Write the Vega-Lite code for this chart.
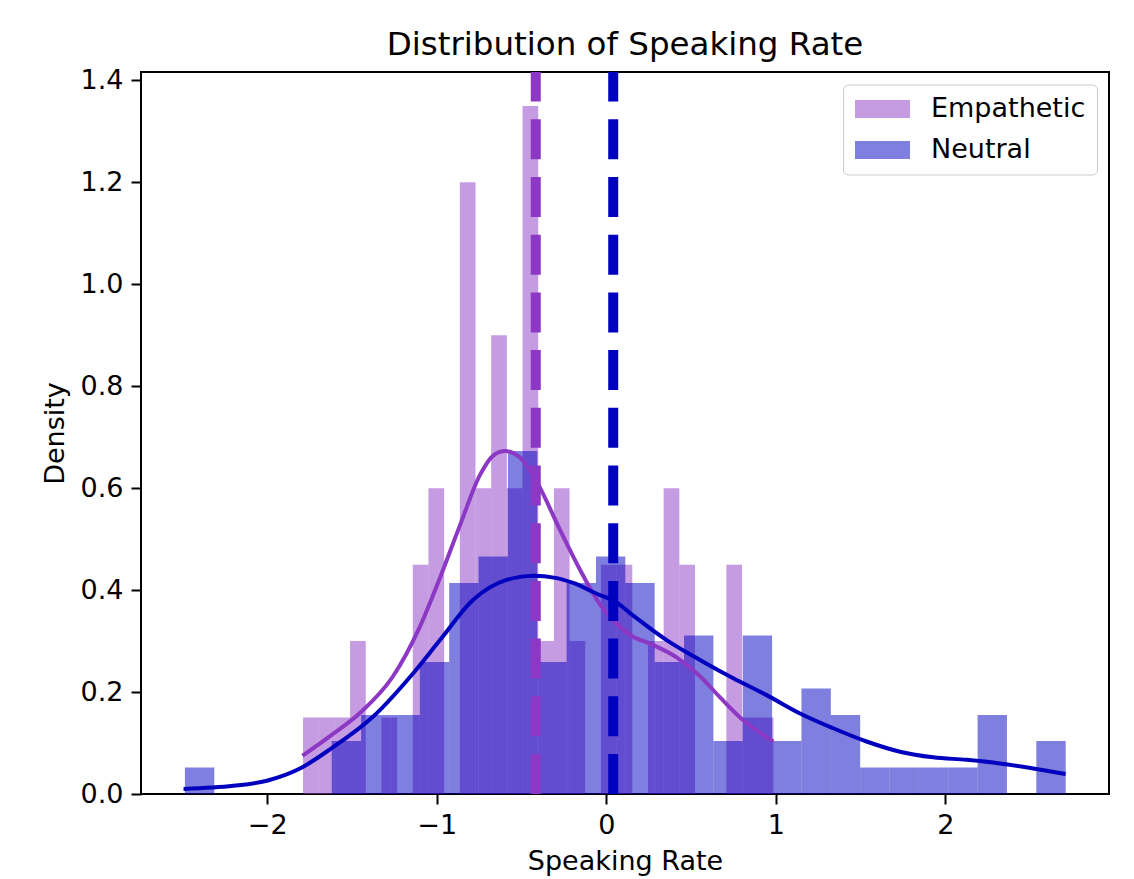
{
  "$schema": "https://vega.github.io/schema/vega-lite/v6.json",
  "width": 968,
  "height": 722,
  "autosize": {"type": "none"},
  "padding": {"left": 141, "top": 72, "right": 25, "bottom": 85},
  "background": "white",
  "title": {"text": "Distribution of Speaking Rate", "fontSize": 32.5, "font": "DejaVu Sans", "fontWeight": "normal", "color": "black", "anchor": "middle", "offset": 5},
  "datasets": {
    "bars": [
      {"group": "Empathetic", "x0": -1.789, "x1": -1.6965, "density": 0.15},
      {"group": "Empathetic", "x0": -1.6965, "x1": -1.604, "density": 0.15},
      {"group": "Empathetic", "x0": -1.604, "x1": -1.5115, "density": 0.15},
      {"group": "Empathetic", "x0": -1.5115, "x1": -1.419, "density": 0.30},
      {"group": "Empathetic", "x0": -1.3265, "x1": -1.234, "density": 0.15},
      {"group": "Empathetic", "x0": -1.1415, "x1": -1.049, "density": 0.45},
      {"group": "Empathetic", "x0": -1.049, "x1": -0.9565, "density": 0.60},
      {"group": "Empathetic", "x0": -0.864, "x1": -0.7715, "density": 1.20},
      {"group": "Empathetic", "x0": -0.7715, "x1": -0.679, "density": 0.60},
      {"group": "Empathetic", "x0": -0.679, "x1": -0.5865, "density": 0.90},
      {"group": "Empathetic", "x0": -0.5865, "x1": -0.494, "density": 0.60},
      {"group": "Empathetic", "x0": -0.494, "x1": -0.4015, "density": 1.35},
      {"group": "Empathetic", "x0": -0.4015, "x1": -0.309, "density": 0.30},
      {"group": "Empathetic", "x0": -0.309, "x1": -0.2165, "density": 0.60},
      {"group": "Empathetic", "x0": -0.2165, "x1": -0.124, "density": 0.30},
      {"group": "Empathetic", "x0": -0.0315, "x1": 0.061, "density": 0.45},
      {"group": "Empathetic", "x0": 0.061, "x1": 0.1535, "density": 0.45},
      {"group": "Empathetic", "x0": 0.246, "x1": 0.3385, "density": 0.30},
      {"group": "Empathetic", "x0": 0.3385, "x1": 0.431, "density": 0.60},
      {"group": "Empathetic", "x0": 0.431, "x1": 0.5235, "density": 0.45},
      {"group": "Empathetic", "x0": 0.7085, "x1": 0.801, "density": 0.45},
      {"group": "Empathetic", "x0": 0.801, "x1": 0.8935, "density": 0.15},
      {"group": "Empathetic", "x0": 0.8935, "x1": 0.986, "density": 0.15},
      {"group": "Neutral", "x0": -2.486, "x1": -2.3124, "density": 0.052},
      {"group": "Neutral", "x0": -1.6196, "x1": -1.4464, "density": 0.104},
      {"group": "Neutral", "x0": -1.4464, "x1": -1.2732, "density": 0.155},
      {"group": "Neutral", "x0": -1.2732, "x1": -1.1, "density": 0.155},
      {"group": "Neutral", "x0": -1.1, "x1": -0.9268, "density": 0.259},
      {"group": "Neutral", "x0": -0.9268, "x1": -0.7536, "density": 0.414},
      {"group": "Neutral", "x0": -0.7536, "x1": -0.5804, "density": 0.466},
      {"group": "Neutral", "x0": -0.5804, "x1": -0.4072, "density": 0.673},
      {"group": "Neutral", "x0": -0.4072, "x1": -0.234, "density": 0.259},
      {"group": "Neutral", "x0": -0.234, "x1": -0.0608, "density": 0.414},
      {"group": "Neutral", "x0": -0.0608, "x1": 0.1124, "density": 0.466},
      {"group": "Neutral", "x0": 0.1124, "x1": 0.2856, "density": 0.414},
      {"group": "Neutral", "x0": 0.2856, "x1": 0.4588, "density": 0.259},
      {"group": "Neutral", "x0": 0.4588, "x1": 0.632, "density": 0.311},
      {"group": "Neutral", "x0": 0.632, "x1": 0.8052, "density": 0.104},
      {"group": "Neutral", "x0": 0.8052, "x1": 0.9784, "density": 0.311},
      {"group": "Neutral", "x0": 0.9784, "x1": 1.1516, "density": 0.104},
      {"group": "Neutral", "x0": 1.1516, "x1": 1.3248, "density": 0.207},
      {"group": "Neutral", "x0": 1.3248, "x1": 1.498, "density": 0.155},
      {"group": "Neutral", "x0": 1.498, "x1": 1.6712, "density": 0.052},
      {"group": "Neutral", "x0": 1.6712, "x1": 1.8444, "density": 0.052},
      {"group": "Neutral", "x0": 1.8444, "x1": 2.0176, "density": 0.052},
      {"group": "Neutral", "x0": 2.0176, "x1": 2.1908, "density": 0.052},
      {"group": "Neutral", "x0": 2.1908, "x1": 2.364, "density": 0.155},
      {"group": "Neutral", "x0": 2.5372, "x1": 2.7104, "density": 0.104}
    ],
    "kdeEmp": [
      {"x": -1.792, "y": 0.075}, {"x": -1.62, "y": 0.116}, {"x": -1.45, "y": 0.16},
      {"x": -1.26, "y": 0.23}, {"x": -1.1, "y": 0.328}, {"x": -0.98, "y": 0.425},
      {"x": -0.86, "y": 0.53}, {"x": -0.745, "y": 0.626}, {"x": -0.667, "y": 0.664},
      {"x": -0.598, "y": 0.673}, {"x": -0.509, "y": 0.66}, {"x": -0.45, "y": 0.635},
      {"x": -0.39, "y": 0.6}, {"x": -0.273, "y": 0.518}, {"x": -0.155, "y": 0.44},
      {"x": -0.037, "y": 0.372}, {"x": 0.06, "y": 0.335}, {"x": 0.15, "y": 0.31},
      {"x": 0.258, "y": 0.295}, {"x": 0.415, "y": 0.268}, {"x": 0.55, "y": 0.232},
      {"x": 0.67, "y": 0.19}, {"x": 0.8, "y": 0.147}, {"x": 0.985, "y": 0.103}
    ],
    "kdeNeu": [
      {"x": -2.494, "y": 0.01}, {"x": -2.2, "y": 0.016}, {"x": -2.003, "y": 0.026},
      {"x": -1.807, "y": 0.05}, {"x": -1.62, "y": 0.09}, {"x": -1.375, "y": 0.152},
      {"x": -1.139, "y": 0.237}, {"x": -0.981, "y": 0.302}, {"x": -0.785, "y": 0.381},
      {"x": -0.588, "y": 0.42}, {"x": -0.431, "y": 0.428}, {"x": -0.3, "y": 0.424},
      {"x": -0.195, "y": 0.414}, {"x": -0.037, "y": 0.39}, {"x": 0.041, "y": 0.38},
      {"x": 0.159, "y": 0.35}, {"x": 0.356, "y": 0.302}, {"x": 0.553, "y": 0.263},
      {"x": 0.749, "y": 0.227}, {"x": 0.946, "y": 0.194}, {"x": 1.143, "y": 0.158},
      {"x": 1.339, "y": 0.129}, {"x": 1.536, "y": 0.103}, {"x": 1.733, "y": 0.083},
      {"x": 1.929, "y": 0.072}, {"x": 2.126, "y": 0.067}, {"x": 2.323, "y": 0.06},
      {"x": 2.519, "y": 0.05}, {"x": 2.71, "y": 0.039}
    ],
    "means": [
      {"group": "Empathetic", "mean": -0.416},
      {"group": "Neutral", "mean": 0.041}
    ]
  },
  "layer": [
    {
      "data": {"name": "bars"},
      "mark": {"type": "rect", "fillOpacity": 0.5, "strokeWidth": 0},
      "encoding": {
        "x": {"field": "x0", "type": "quantitative", "scale": {"domain": [-2.745, 2.966], "nice": false, "zero": false},
              "axis": {"title": "Speaking Rate", "values": [-2, -1, 0, 1, 2], "format": "d", "titlePadding": 10}},
        "x2": {"field": "x1"},
        "y": {"field": "density", "type": "quantitative", "scale": {"domain": [0, 1.4165], "nice": false, "zero": true},
              "axis": {"title": "Density", "values": [0, 0.2, 0.4, 0.6, 0.8, 1.0, 1.2, 1.4], "format": ".1f", "titlePadding": 11}},
        "y2": {"datum": 0},
        "color": {"field": "group", "type": "nominal",
                  "scale": {"domain": ["Empathetic", "Neutral"], "range": ["#8C38C4", "#0000BF"]},
                  "legend": {"title": null, "orient": "none", "legendX": 702, "legendY": 12.5,
                             "symbolType": "M-2.115,-0.692H2.115V0.692H-2.115Z", "symbolSize": 676, "symbolOffset": 15, "symbolOpacity": 0.5, "symbolStrokeWidth": 0,
                             "labelFont": "DejaVu Sans", "labelFontSize": 27, "labelColor": "black", "labelOffset": 35,
                             "rowPadding": 13, "padding": 11, "strokeColor": "#cccccc", "fillColor": "rgba(255,255,255,0.8)", "cornerRadius": 5}}
      }
    },
    {
      "data": {"name": "kdeEmp"},
      "mark": {"type": "line", "color": "#8C38C4", "strokeWidth": 4, "interpolate": "monotone"},
      "encoding": {"x": {"field": "x", "type": "quantitative"}, "y": {"field": "y", "type": "quantitative"}}
    },
    {
      "data": {"name": "kdeNeu"},
      "mark": {"type": "line", "color": "#0000BF", "strokeWidth": 4, "interpolate": "monotone"},
      "encoding": {"x": {"field": "x", "type": "quantitative"}, "y": {"field": "y", "type": "quantitative"}}
    },
    {
      "data": {"name": "means"},
      "mark": {"type": "rule", "strokeWidth": 10, "strokeDash": [40, 17.7]},
      "encoding": {
        "x": {"field": "mean", "type": "quantitative"},
        "y": {"datum": 0},
        "y2": {"datum": 1.4165},
        "stroke": {"field": "group", "type": "nominal", "scale": {"domain": ["Empathetic", "Neutral"], "range": ["#8C38C4", "#0000BF"]}, "legend": null}
      }
    }
  ],
  "resolve": {"scale": {"stroke": "independent"}},
  "config": {
    "view": {"stroke": "black", "strokeWidth": 2},
    "axis": {"grid": false, "domain": false, "tickColor": "black", "tickWidth": 2, "tickSize": 10,
             "labelFont": "DejaVu Sans", "labelFontSize": 27, "labelColor": "black", "labelPadding": 8,
             "titleFont": "DejaVu Sans", "titleFontSize": 27, "titleFontWeight": "normal", "titleColor": "black"}
  }
}
